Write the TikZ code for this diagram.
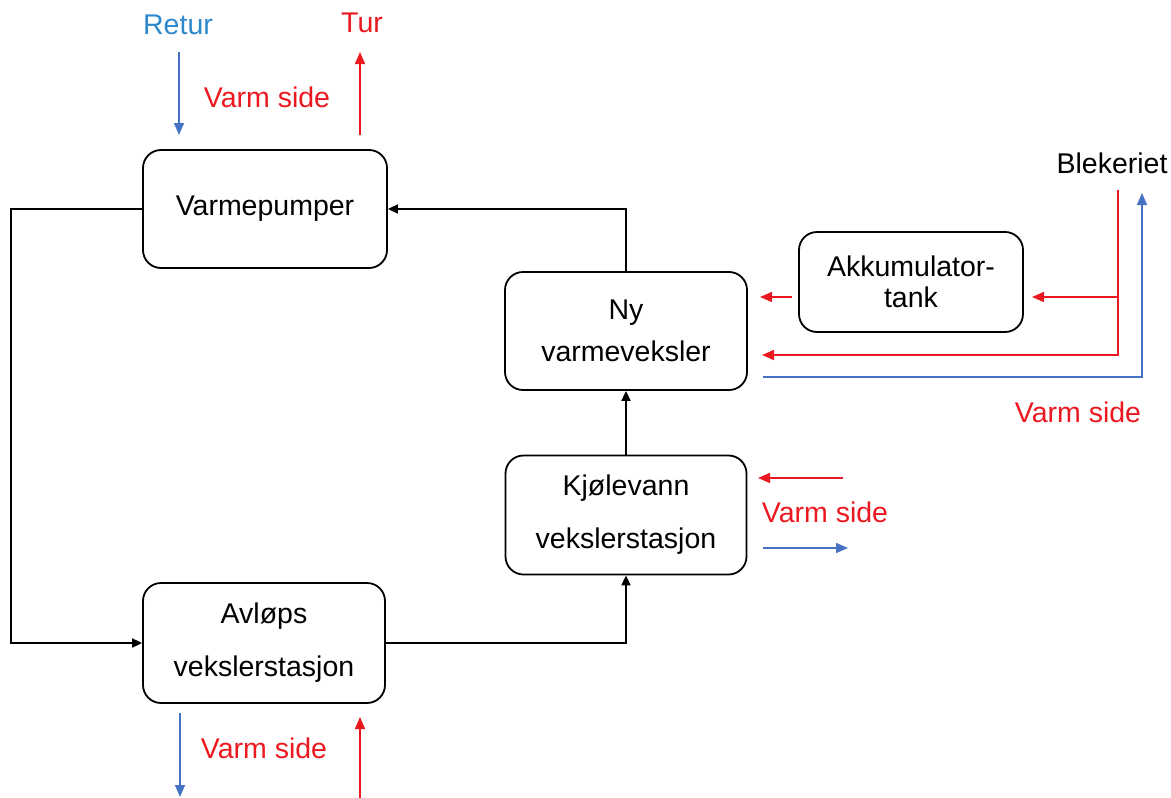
\documentclass[tikz,border=0pt]{standalone}
\usepackage{fontspec}
\setmainfont{Liberation Sans}
\usetikzlibrary{arrows.meta}
\definecolor{myred}{RGB}{236,24,32}
\definecolor{myblue}{RGB}{70,114,196}
\definecolor{returblue}{RGB}{46,136,204}
\begin{document}
\begin{tikzpicture}[x=1pt,y=-1pt,
  box/.style={draw=black,line width=1.8pt,rounded corners=18pt,inner sep=0pt,align=center,
    font=\fontsize{28.5}{31}\selectfont},
  lbl/.style={inner sep=0pt,font=\fontsize{28.5}{31}\selectfont},
  blk/.style={draw=black,line width=1.8pt,-{Triangle[length=10pt,width=9pt]}},
  rarr/.style={draw=myred,line width=1.5pt,-{Triangle[length=12pt,width=10pt]}},
  barr/.style={draw=myblue,line width=1.5pt,-{Triangle[length=12pt,width=10pt]}}]
\useasboundingbox (0,0) rectangle (1171,798);
% boxes
\node[box,minimum width=244pt,minimum height=118pt] (vp) at (265,209) {Varmepumper};
\node[box,minimum width=242pt,minimum height=118pt] (ny) at (626,331) {Ny\\[11pt]varmeveksler};
\node[box,minimum width=224pt,minimum height=100pt] (akk) at (911,282) {Akkumulator-\\tank};
\node[box,minimum width=241pt,minimum height=119pt] (kj) at (626,515) {Kjølevann\\[22pt]vekslerstasjon};
\node[box,minimum width=242pt,minimum height=120pt] (av) at (264,643) {Avløps\\[22pt]vekslerstasjon};
% labels
\node[lbl,text=returblue] (retur) at (178,25) {Retur};
\node[lbl,text=myred] (tur) at (362,23) {Tur};
\node[lbl,text=myred] (vs1) at (267,97) {Varm side};
\node[lbl] (blek) at (1112,163) {Blekeriet};
\node[lbl,text=myred] (vs2) at (1078,412) {Varm side};
\node[lbl,text=myred] (vs3) at (825,512) {Varm side};
\node[lbl,text=myred] (vs4) at (264,748) {Varm side};
% black loop
\draw[blk] (vp.west) -- ++(-131,0) |- (av.west);
\draw[blk] (ny.north) |- (vp.east);
\draw[blk] (av.east) -| (kj.south);
\draw[blk] (kj.north) -- (ny.south);
% coordinates for free ends
\coordinate (rt1) at (179,52);  \coordinate (rt2) at (179,135);
\coordinate (tu1) at (360,135); \coordinate (tu2) at (360,52);
\coordinate (bl1) at (1118,190); \coordinate (bl2) at (762,355);
\coordinate (bl3) at (1118,297); \coordinate (akkin) at (1032,297);
\coordinate (akk1) at (792,297); \coordinate (akk2) at (760,297);
\coordinate (bo1) at (763,377); \coordinate (bo2) at (1142,193);
\coordinate (kr1) at (843,478); \coordinate (kr2) at (758,478);
\coordinate (kb1) at (763,548); \coordinate (kb2) at (848,548);
\coordinate (ab1) at (180,713); \coordinate (ab2) at (180,797);
\coordinate (ar1) at (360,798); \coordinate (ar2) at (360,717);
% coloured arrows
\draw[barr] (rt1) -- (rt2);
\draw[rarr] (tu1) -- (tu2);
\draw[rarr] (bl1) |- (bl2);
\draw[rarr] (bl3) -- (akkin);
\draw[rarr] (akk1) -- (akk2);
\draw[barr] (bo1) -| (bo2);
\draw[rarr] (kr1) -- (kr2);
\draw[barr] (kb1) -- (kb2);
\draw[barr] (ab1) -- (ab2);
\draw[rarr] (ar1) -- (ar2);
\end{tikzpicture}
\end{document}
